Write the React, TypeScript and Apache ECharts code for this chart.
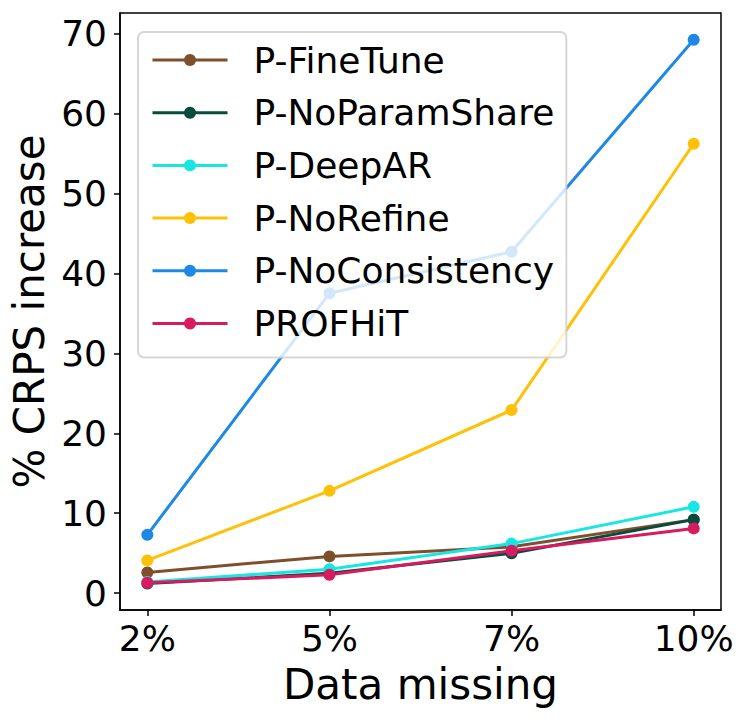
import React, { useEffect, useRef } from 'react';
import * as echarts from 'echarts';

const categories = ['2%', '5%', '7%', '10%'];
const seriesNames = ['P-FineTune', 'P-NoParamShare', 'P-DeepAR', 'P-NoRefine', 'P-NoConsistency', 'PROFHiT'];
const fineTune = [2.6, 4.6, 5.8, 9.2];
const noParamShare = [1.2, 2.5, 5.0, 9.2];
const deepAR = [1.4, 3.0, 6.2, 10.8];
const noRefine = [4.1, 12.8, 22.9, 56.2];
const noConsistency = [7.3, 37.5, 42.7, 69.2];
const profhit = [1.3, 2.3, 5.3, 8.1];
const seriesValues = [fineTune, noParamShare, deepAR, noRefine, noConsistency, profhit];
const seriesColors = ['#7f4f2b', '#064c3c', '#17e6e3', '#ffc107', '#1e88e5', '#d81b60'];
const yTicks = [0, 10, 20, 30, 40, 50, 60, 70];
const xTicks = [0, 1, 2, 3];

const FONT = 'DejaVu Sans';

export default function App() {
  const ref = useRef<HTMLDivElement>(null);
  useEffect(() => {
    if (!ref.current) return;
    const chart = echarts.init(ref.current, undefined, { renderer: 'svg' });
    chart.setOption({
      animation: false,
      backgroundColor: '#ffffff',
      grid: {
        left: 120,
        right: 26,
        top: 13,
        bottom: 110,
        show: true,
        borderColor: '#000',
        borderWidth: 1.5,
        backgroundColor: 'transparent',
      },
      xAxis: {
        type: 'value',
        min: -0.15,
        max: 3.15,
        name: 'Data missing',
        nameLocation: 'middle',
        nameGap: 53,
        nameTextStyle: { fontSize: 42, color: '#000', fontFamily: FONT },
        axisLine: { onZero: false, lineStyle: { color: '#000', width: 1.5 } },
        axisTick: { customValues: xTicks, length: 6, lineStyle: { color: '#000', width: 1.5 } },
        axisLabel: {
          customValues: xTicks,
          formatter: (v: number) => categories[Math.round(v)],
          fontSize: 36,
          color: '#000',
          fontFamily: FONT,
          margin: 10,
        },
        splitLine: { show: false },
      },
      yAxis: {
        type: 'value',
        min: -2.1,
        max: 72.55,
        name: '% CRPS increase',
        nameLocation: 'middle',
        nameGap: 67,
        nameTextStyle: { fontSize: 42, color: '#000', fontFamily: FONT },
        axisLine: { show: true, onZero: false, lineStyle: { color: '#000', width: 1.5 } },
        axisTick: { show: true, customValues: yTicks, length: 6, lineStyle: { color: '#000', width: 1.5 } },
        axisLabel: {
          customValues: yTicks,
          fontSize: 36,
          color: '#000',
          fontFamily: FONT,
          margin: 13,
        },
        splitLine: { show: false },
      },
      legend: {
        orient: 'vertical',
        left: 138,
        top: 32,
        data: seriesNames,
        itemWidth: 75,
        itemHeight: 15,
        itemGap: 12.7,
        padding: [8, 12, 14, 13],
        backgroundColor: 'rgba(255,255,255,0.8)',
        borderColor: 'rgba(204,204,204,0.8)',
        borderWidth: 2,
        borderRadius: 6,
        lineStyle: { width: 3 },
        textStyle: { fontSize: 36, color: '#000', fontFamily: FONT, lineHeight: 40, padding: [0, 0, 0, 21] },
      },
      series: seriesNames.map((name, k) => ({
        name,
        type: 'line',
        data: seriesValues[k].map((v, i) => [i, v]),
        symbol: 'circle',
        symbolSize: 12,
        color: seriesColors[k],
        lineStyle: { width: 3, color: seriesColors[k] },
        itemStyle: { color: seriesColors[k] },
      })),
    });
    return () => chart.dispose();
  }, []);
  return (
    <div
      ref={ref}
      style={{ position: 'fixed', left: 0, top: 0, width: 747, height: 720, background: '#fff' }}
    />
  );
}
